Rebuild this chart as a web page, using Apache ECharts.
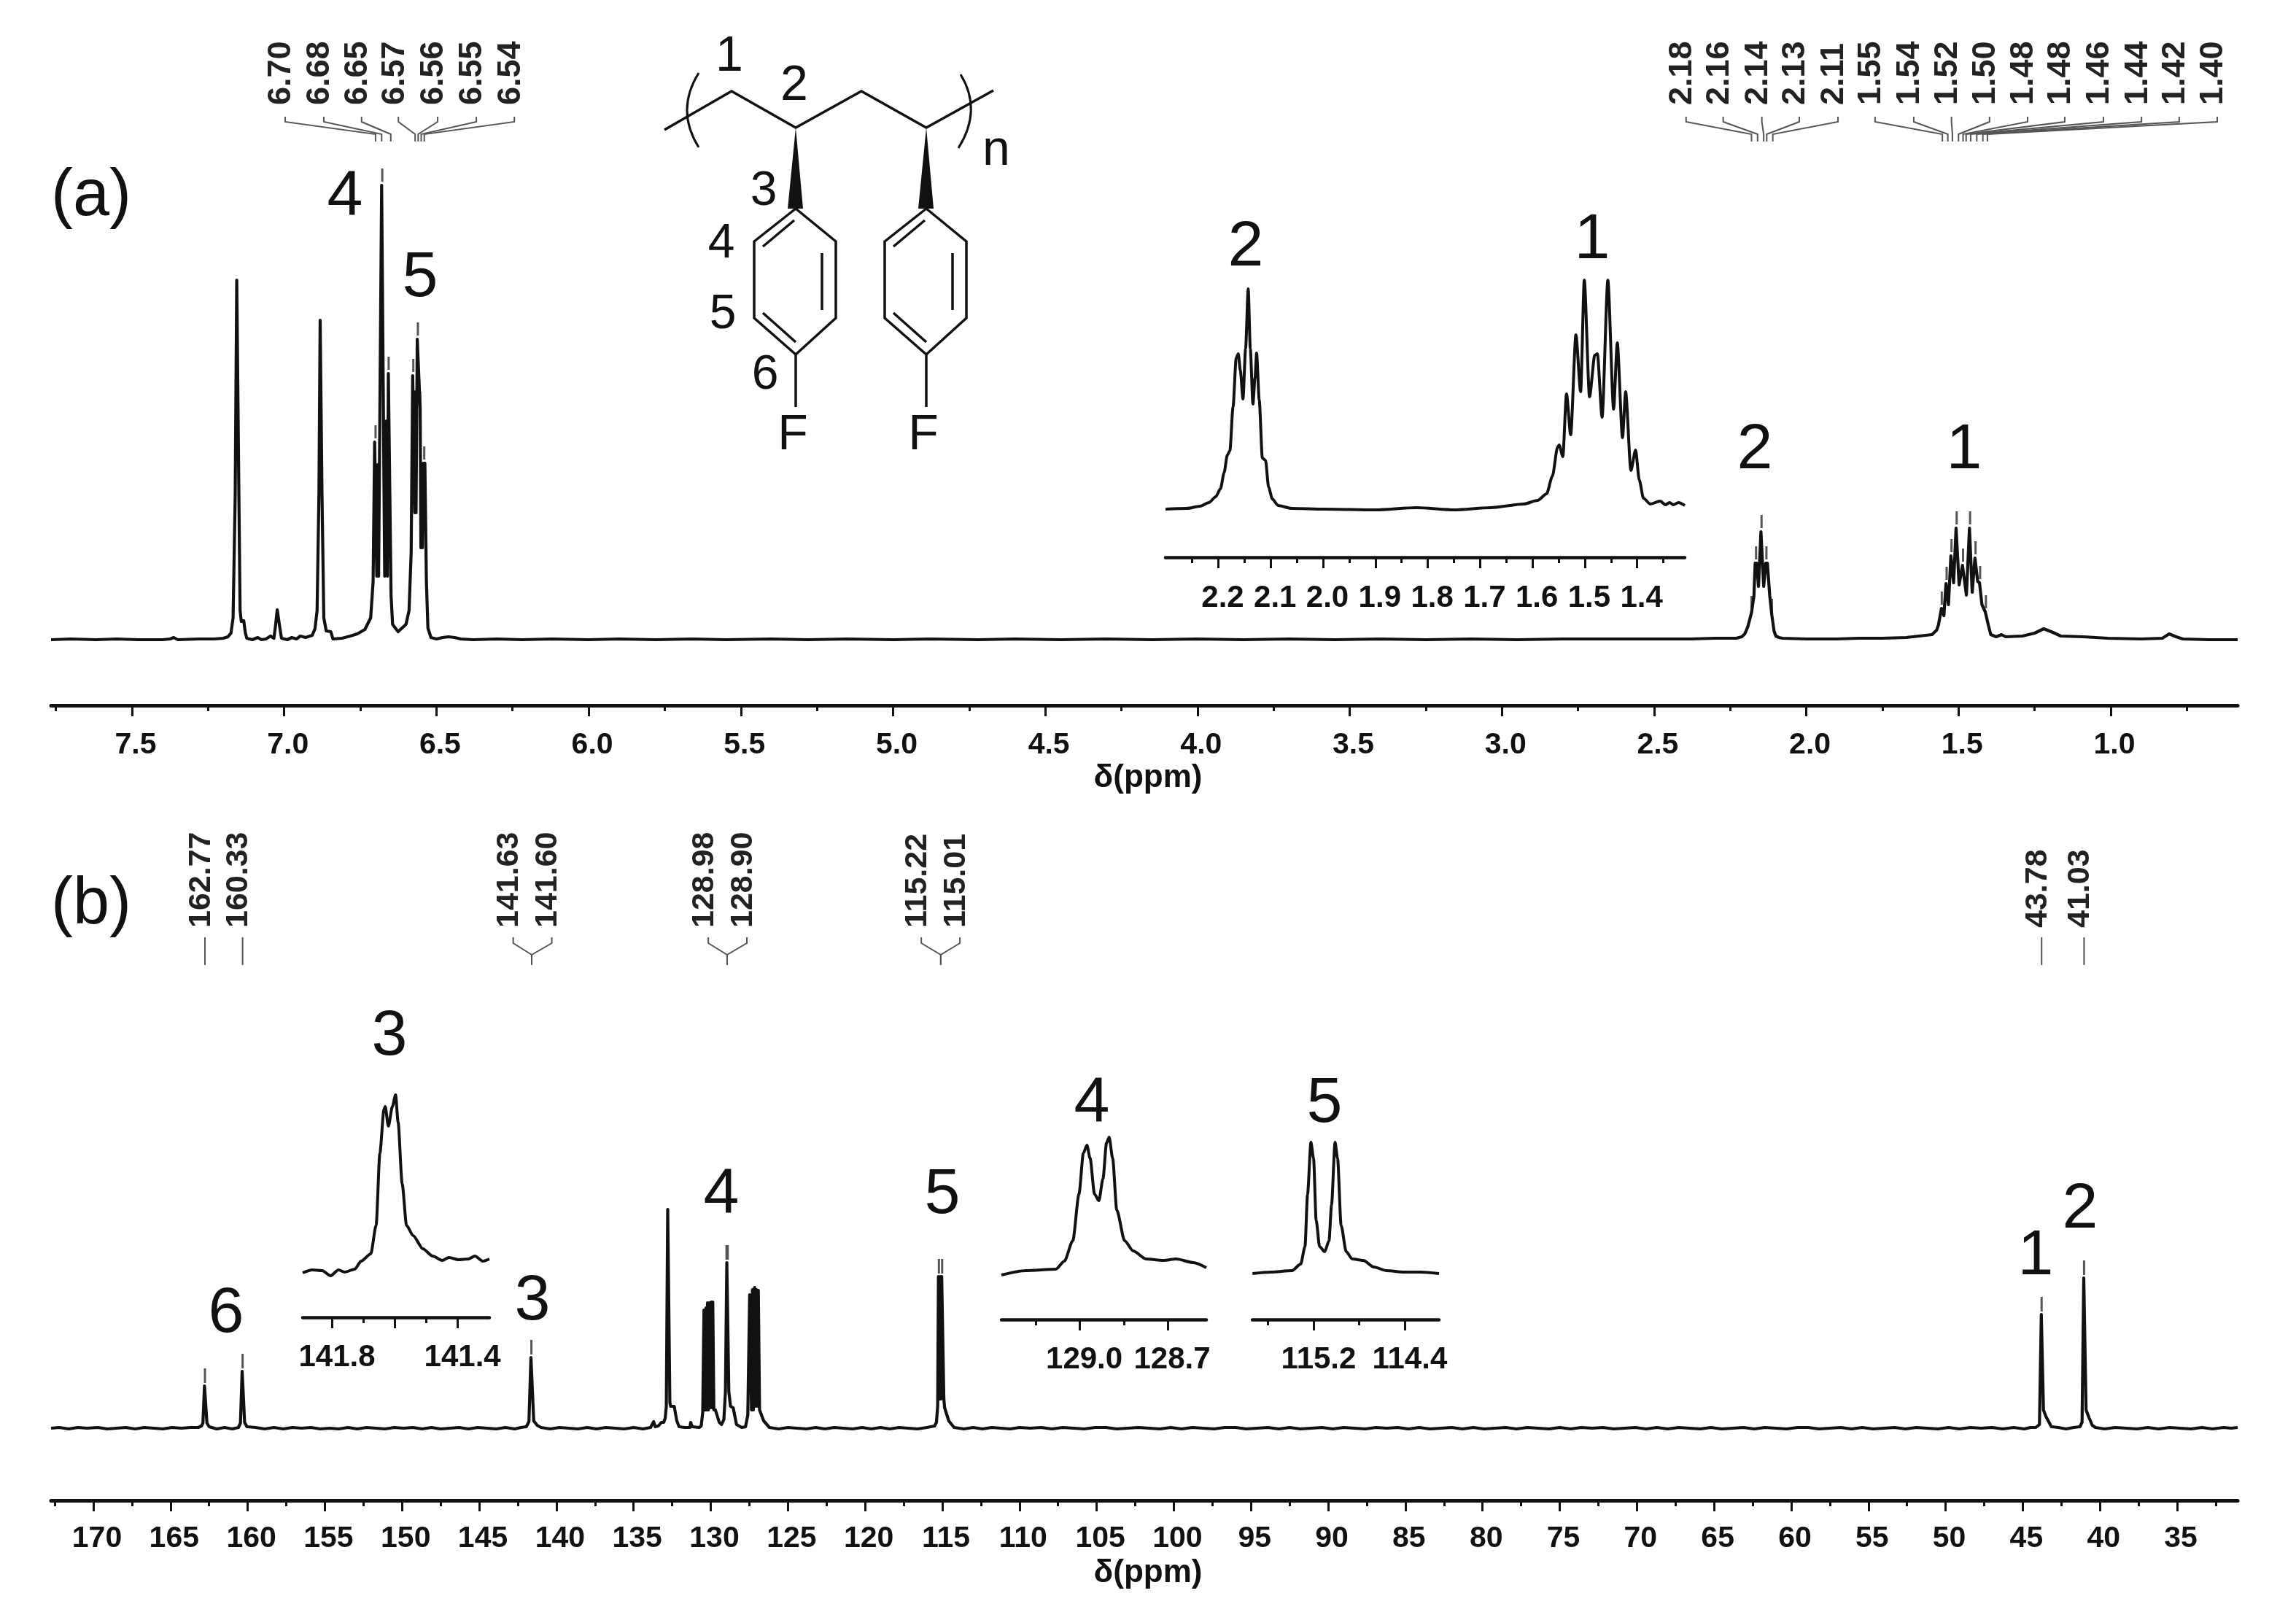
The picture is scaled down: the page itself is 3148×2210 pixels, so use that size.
<!DOCTYPE html>
<html><head><meta charset="utf-8">
<style>html,body{margin:0;padding:0;background:#fff}#c{width:3148px;height:2210px}</style>
<script src="https://cdn.jsdelivr.net/npm/echarts@6/dist/echarts.min.js"></script>
</head><body><div id="c"></div>
<script>
// ---------- values: [ppm, intensity] ----------
const protonTrace=[[7.766,0],[7.70,1],[7.62,0],[7.55,1],[7.48,0],[7.40,0],[7.375,1],[7.363,3],[7.35,0],[7.28,1],[7.23,1],[7.20,2],[7.185,4],[7.175,9],[7.168,30],[7.161,200],[7.156,493],[7.154,493],[7.149,200],[7.145,40],[7.141,25],[7.133,26],[7.128,10],[7.123,2],[7.105,0],[7.087,3],[7.075,0],[7.060,1],[7.045,5],[7.034,2],[7.029,18],[7.023,41],[7.019,41],[7.015,18],[7.009,2],[6.99,0],[6.975,3],[6.960,1],[6.947,5],[6.93,3],[6.908,6],[6.899,15],[6.892,40],[6.886,200],[6.882,438],[6.880,438],[6.876,200],[6.870,30],[6.862,12],[6.847,11],[6.840,1],[6.81,2],[6.783,5],[6.76,8],[6.735,14],[6.716,30],[6.708,80],[6.703,271],[6.699,271],[6.696,87],[6.693,240],[6.690,87],[6.687,87],[6.680,623],[6.677,623],[6.670,87],[6.667,87],[6.664,300],[6.661,87],[6.658,365],[6.654,365],[6.649,60],[6.644,21],[6.626,11],[6.60,21],[6.590,40],[6.583,120],[6.578,362],[6.574,362],[6.571,174],[6.569,340],[6.567,174],[6.563,412],[6.559,412],[6.5535,317],[6.551,126],[6.548,240],[6.546,126],[6.543,242],[6.538,242],[6.533,80],[6.528,16],[6.518,3],[6.50,1],[6.48,3],[6.46,4],[6.44,3],[6.42,1],[6.38,0],[6.30,1],[6.22,0],[6.12,1],[6.0,0],[5.9,1],[5.78,0],[5.66,1],[5.55,0],[5.4,1],[5.28,0],[5.15,1],[5.0,0],[4.88,1],[4.72,0],[4.6,1],[4.45,0],[4.3,1],[4.15,0],[4.0,1],[3.85,0],[3.7,1],[3.55,0],[3.4,1],[3.25,0],[3.1,1],[2.95,0],[2.8,1],[2.65,1],[2.5,1],[2.38,1],[2.30,2],[2.23,2],[2.212,4],[2.202,8],[2.192,18],[2.18,37],[2.172,60],[2.168,105],[2.163,105],[2.157,73],[2.153,73],[2.149,148],[2.145,148],[2.140,73],[2.136,73],[2.133,105],[2.128,105],[2.12,60],[2.113,33],[2.106,12],[2.10,5],[2.09,3],[2.078,2],[2.0,1],[1.9,1],[1.827,2],[1.75,2],[1.672,3],[1.587,7],[1.572,13],[1.566,20],[1.559,36],[1.556,43],[1.552,43],[1.548,33],[1.541,77],[1.537,77],[1.533,48],[1.529,48],[1.525,115],[1.521,115],[1.516,78],[1.512,78],[1.508,153],[1.504,153],[1.498,75],[1.494,75],[1.487,102],[1.483,102],[1.474,61],[1.470,61],[1.464,153],[1.460,153],[1.455,65],[1.451,65],[1.446,112],[1.442,112],[1.437,80],[1.431,78],[1.427,78],[1.423,48],[1.412,38],[1.408,38],[1.402,20],[1.394,7],[1.376,4],[1.359,7],[1.345,4],[1.29,5],[1.25,9],[1.22,15],[1.19,10],[1.164,5],[1.09,4],[1.01,2],[0.90,1],[0.83,2],[0.808,8],[0.785,4],[0.763,1],[0.68,0],[0.583,0]];
const protonInsetTrace=[[2.301,0],[2.26,1],[2.235,4],[2.218,9],[2.205,17],[2.196,28],[2.189,50],[2.183,74],[2.178,80],[2.172,140],[2.166,207],[2.162,213],[2.158,190],[2.153,151],[2.148,220],[2.143,302],[2.139,220],[2.134,144],[2.130,180],[2.127,214],[2.122,150],[2.116,70],[2.110,67],[2.104,30],[2.097,14],[2.086,5],[2.06,1],[1.998,0],[1.90,-1],[1.822,2],[1.749,-1],[1.68,2],[1.617,7],[1.59,12],[1.573,21],[1.562,45],[1.552,85],[1.549,88],[1.542,72],[1.535,158],[1.527,102],[1.517,239],[1.508,161],[1.501,314],[1.491,154],[1.481,211],[1.476,213],[1.467,126],[1.456,314],[1.445,137],[1.438,228],[1.428,98],[1.422,161],[1.412,53],[1.403,81],[1.396,40],[1.388,15],[1.375,7],[1.356,11],[1.346,6],[1.338,9],[1.331,6],[1.321,9],[1.309,5]];
const carbonTrace=[[172.74,0],[172.2,1],[171.6,-1],[171.0,1],[170.4,0],[169.7,1],[169.1,-1],[168.5,0],[167.9,1],[167.3,-1],[166.7,1],[166.1,0],[165.5,-1],[164.9,1],[164.3,0],[163.7,1],[163.2,1],[163.0,3],[162.9,7],[162.8,58],[162.74,58],[162.64,7],[162.5,2],[162.0,-1],[161.5,1],[161.0,-1],[160.6,1],[160.47,7],[160.36,78],[160.31,78],[160.2,8],[160.05,2],[159.5,1],[158.9,-1],[158.3,1],[157.7,-1],[157.1,1],[156.5,0],[155.9,1],[155.3,-1],[154.7,0],[154.1,-1],[153.5,1],[152.9,-1],[152.3,1],[151.7,0],[151.1,-1],[150.5,1],[149.9,0],[149.3,1],[148.7,-1],[148.1,1],[147.5,-1],[146.9,0],[146.3,1],[145.7,-1],[145.1,1],[144.5,0],[143.9,-1],[143.3,1],[142.7,-1],[142.3,1],[141.95,2],[141.78,9],[141.65,97],[141.59,97],[141.47,10],[141.25,4],[141.0,1],[140.4,-1],[139.8,1],[139.2,0],[138.6,-1],[138.0,1],[137.4,-1],[136.8,1],[136.2,0],[135.6,-1],[135.0,1],[134.4,-1],[133.9,1],[133.7,9],[133.6,2],[133.4,3],[133.2,8],[133.05,8],[132.95,14],[132.88,30],[132.79,300],[132.74,300],[132.65,35],[132.6,30],[132.37,30],[132.2,10],[132.05,2],[131.7,1],[131.35,1],[131.3,8],[131.2,2],[130.75,1],[130.62,3],[130.52,22],[130.44,162],[130.36,25],[130.31,165],[130.26,25],[130.21,172],[130.15,25],[130.08,172],[130.03,28],[129.97,173],[129.92,28],[129.87,173],[129.8,25],[129.7,25],[129.45,8],[129.3,5],[129.15,12],[129.05,50],[128.96,227],[128.92,227],[128.83,50],[128.72,30],[128.55,28],[128.33,5],[128.0,1],[127.75,2],[127.6,18],[127.48,183],[127.42,183],[127.36,25],[127.3,190],[127.24,25],[127.16,193],[127.1,30],[127.04,190],[126.98,30],[126.92,189],[126.84,25],[126.57,10],[126.2,1],[125.6,-1],[125.0,1],[124.4,0],[123.8,-1],[123.2,1],[122.6,-1],[122.0,1],[121.4,0],[120.8,-1],[120.2,1],[119.6,-1],[119.0,1],[118.4,-1],[117.8,1],[117.2,0],[116.6,-1],[116.0,1],[115.5,3],[115.38,8],[115.3,30],[115.25,208],[115.2,208],[115.16,40],[115.12,208],[115.08,40],[115.04,208],[114.98,208],[114.9,40],[114.85,28],[114.58,10],[114.24,1],[113.6,-1],[113.0,1],[112.4,-1],[111.8,1],[111.2,0],[110.6,-1],[110.0,1],[109.3,0],[108.6,1],[107.9,-1],[107.2,1],[106.5,0],[105.8,-1],[105.1,1],[104.4,1],[103.7,-1],[103.0,0],[102.3,1],[101.6,0],[100.9,-1],[100.2,1],[99.5,-1],[98.8,1],[98.1,0],[97.4,-1],[96.7,1],[96.0,1],[95.3,-1],[94.6,0],[93.9,1],[93.2,-1],[92.5,1],[91.8,-1],[91.1,0],[90.4,1],[89.7,-1],[89.0,1],[88.3,0],[87.6,-1],[86.9,1],[86.2,0],[85.5,1],[84.8,-1],[84.1,1],[83.4,-1],[82.7,0],[82.0,1],[81.3,-1],[80.6,1],[79.9,-1],[79.2,0],[78.5,1],[77.8,-1],[77.1,1],[76.4,0],[75.7,-1],[75.0,1],[74.3,-1],[73.6,1],[72.9,0],[72.2,1],[71.5,-1],[70.8,0],[70.1,1],[69.4,-1],[68.7,1],[68.0,-1],[67.3,1],[66.6,0],[65.9,-1],[65.2,1],[64.5,-1],[63.8,0],[63.1,1],[62.4,-1],[61.7,1],[61.0,0],[60.3,-1],[59.6,1],[58.9,1],[58.2,-1],[57.5,0],[56.8,1],[56.1,-1],[55.4,1],[54.7,-1],[54.0,0],[53.3,1],[52.6,-1],[51.9,1],[51.2,0],[50.5,-1],[49.8,1],[49.1,-1],[48.4,1],[47.7,0],[47.0,1],[46.3,-1],[45.6,1],[44.9,-1],[44.5,1],[44.15,1],[43.92,5],[43.80,156],[43.76,156],[43.66,25],[43.5,16],[43.3,8],[43.15,2],[42.7,1],[42.2,-1],[41.7,1],[41.3,2],[41.16,8],[41.05,206],[41.01,206],[40.9,25],[40.7,14],[40.5,4],[40.3,1],[39.7,-1],[39.0,1],[38.3,0],[37.6,-1],[36.9,1],[36.2,-1],[35.5,1],[34.8,0],[34.1,-1],[33.4,1],[32.7,-1],[32.0,1],[31.5,0],[31.08,1]];
const c3InsetTrace=[[141.893,-5],[141.862,-1],[141.831,-2],[141.804,-9],[141.779,-1],[141.759,-4],[141.727,0],[141.707,11],[141.676,21],[141.659,60],[141.647,159],[141.634,219],[141.630,223],[141.620,196],[141.607,223],[141.597,239],[141.589,202],[141.576,117],[141.562,60],[141.541,46],[141.510,28],[141.479,18],[141.448,12],[141.427,16],[141.396,13],[141.365,14],[141.344,18],[141.319,11],[141.298,14]];
const c4InsetTrace=[[129.268,-1],[129.185,5],[129.082,7],[129.053,18],[129.024,46],[129.003,110],[128.988,166],[128.976,177],[128.965,159],[128.95,110],[128.935,101],[128.921,131],[128.909,180],[128.9,188],[128.888,159],[128.874,88],[128.847,46],[128.818,32],[128.774,21],[128.715,19],[128.671,21],[128.612,16],[128.568,9]];
const c5InsetTrace=[[115.736,0],[115.577,2],[115.389,4],[115.313,13],[115.275,37],[115.253,108],[115.223,180],[115.2,158],[115.177,73],[115.147,37],[115.102,30],[115.064,45],[115.042,94],[115.011,180],[114.989,158],[114.958,66],[114.913,30],[114.86,20],[114.762,18],[114.672,9],[114.558,4],[114.408,2],[114.257,2],[114.098,0]];

// picked peaks: label text, peak position, where the label sits (all on the ppm scale)
const protonPickLabels=['6.70','6.68','6.65','6.57','6.56','6.55','6.54','2.18','2.16','2.14','2.13','2.11','1.55','1.54','1.52','1.50','1.48','1.48','1.46','1.44','1.42','1.40'];
const protonPickPpm=[6.70,6.68,6.65,6.57,6.56,6.55,6.54,2.18,2.16,2.14,2.13,2.11,1.553,1.535,1.52,1.50,1.485,1.475,1.46,1.44,1.42,1.405];
const protonPickLabelPpm=[6.997,6.870,6.746,6.625,6.496,6.369,6.244,2.395,2.273,2.146,2.023,1.896,1.774,1.647,1.523,1.398,1.273,1.151,1.024,0.899,0.775,0.650];
const carbonPickLabels=['162.77','160.33','141.63','141.60','128.98','128.90','115.22','115.01','43.78','41.03'];
const carbonPickPpm=[162.77,160.33,141.6,141.6,128.94,128.94,115.1,115.1,43.78,41.03];
const carbonPickLabelPpm=[162.77,160.33,142.8,140.3,130.16,127.66,116.36,113.86,43.78,41.03];
// small marks drawn over the picked peaks: [ppm, peak top]
const protonPeakMarks=[[6.70,271],[6.678,623],[6.657,365],[6.576,362],[6.561,412],[6.5535,317],[6.54,242],[2.18,37],[2.165,105],[2.147,148],[2.131,105],[2.113,33],[1.555,43],[1.539,77],[1.523,115],[1.506,153],[1.485,102],[1.462,153],[1.444,112],[1.429,78],[1.41,38]];
const carbonPeakMarks=[[162.77,58],[160.33,78],[141.62,97],[128.98,227],[128.9,227],[115.22,208],[115.01,208],[43.78,156],[41.03,206]];

const protonMajor=[7.5,7,6.5,6,5.5,5,4.5,4,3.5,3,2.5,2,1.5,1];
const protonMinor=[7.75,7.25,6.75,6.25,5.75,5.25,4.75,4.25,3.75,3.25,2.75,2.25,1.75,1.25,0.75];
const carbonMajor=[170,165,160,155,150,145,140,135,130,125,120,115,110,105,100,95,90,85,80,75,70,65,60,55,50,45,40,35];
const carbonMinor=[172.5,167.5,162.5,157.5,152.5,147.5,142.5,137.5,132.5,127.5,122.5,117.5,112.5,107.5,102.5,97.5,92.5,87.5,82.5,77.5,72.5,67.5,62.5,57.5,52.5,47.5,42.5,37.5,32.5];
const insetAMajor=[2.2,2.1,2.0,1.9,1.8,1.7,1.6,1.5,1.4];
const insetAMinor=[2.25,2.15,2.05,1.95,1.85,1.75,1.65,1.55,1.45,1.35];
const insetC3Major=[141.8,141.6,141.4], insetC3Minor=[141.7,141.5], insetC3Labels=[141.8,141.4];
const insetC4Major=[129.0,128.7], insetC4Minor=[129.15,128.85];
const insetC5Major=[115.2,114.4], insetC5Minor=[115.6,114.8];

// ---------- layout ----------
const font='"Liberation Sans", Arial, sans-serif', ink='#111';
const panels=[
 {left:70,right:3068,top:0,bottom:967,yMin:-90,yMax:877,xMax:7.766,xMin:0.583,major:protonMajor,minor:protonMinor,dec:1,margin:34,trace:protonTrace,name:true,pad:10,fs:41,lw:4.2},
 {left:70,right:3068,top:1100,bottom:2057,yMin:-99,yMax:858,xMax:172.74,xMin:31.08,major:carbonMajor,minor:carbonMinor,dec:0,margin:32,trace:carbonTrace,name:true,pad:10,fs:41,lw:4.2},
 {left:1598,right:2310,top:300,bottom:764,yMin:-66,yMax:398,xMax:2.301,xMin:1.309,major:insetAMajor,minor:insetAMinor,dec:1,margin:35,trace:protonInsetTrace,pad:12,fs:42,lw:4,smooth:0.25},
 {left:415,right:671,top:1400,bottom:1806,yMin:-66,yMax:340,xMax:141.893,xMin:141.298,major:insetC3Major,minor:insetC3Minor,labels:insetC3Labels,dec:1,margin:34,trace:c3InsetTrace,pad:14,fs:42,lw:4,smooth:0.25},
 {left:1373,right:1654,top:1500,bottom:1809,yMin:-62,yMax:247,xMax:129.268,xMin:128.568,major:insetC4Major,minor:insetC4Minor,dec:1,margin:34,trace:c4InsetTrace,pad:12,fs:42,lw:4,smooth:0.25},
 {left:1717,right:1973,top:1500,bottom:1809,yMin:-63,yMax:246,xMax:115.738,xMin:114.098,major:insetC5Major,minor:insetC5Minor,dec:1,margin:34,trace:c5InsetTrace,pad:14,fs:42,lw:4,smooth:0.25}
];
const grid=[],xAxis=[],yAxis=[],series=[];
panels.forEach((p,i)=>{
  grid.push({left:p.left,top:p.top,width:p.right-p.left,height:p.bottom-p.top,containLabel:false,z:2});
  const line={show:true,lineStyle:{color:ink,width:i<2?5:4.5},onZero:false};
  xAxis.push({gridIndex:i,type:'value',inverse:true,min:p.xMin,max:p.xMax,position:'bottom',axisLine:line,splitLine:{show:false},
    axisTick:{show:true,inside:false,length:15,lineStyle:{color:ink,width:3},customValues:p.major},
    axisLabel:{show:true,margin:p.margin,color:ink,fontFamily:font,fontWeight:'bold',fontSize:p.fs,customValues:p.labels||p.major,hideOverlap:false,padding:[0,0,0,p.pad],formatter:v=>Number(v).toFixed(p.dec)},
    name:p.name?'δ(ppm)':'',nameLocation:'middle',nameGap:78,nameTextStyle:{fontFamily:font,fontWeight:'bold',fontSize:44,color:ink,padding:[0,0,0,10]}});
  xAxis.push({gridIndex:i,type:'value',inverse:true,min:p.xMin,max:p.xMax,position:'bottom',axisLine:{show:false,onZero:false},splitLine:{show:false},
    axisTick:{show:true,inside:false,length:8,lineStyle:{color:ink,width:3},customValues:p.minor},axisLabel:{show:false}});
  yAxis.push({gridIndex:i,type:'value',min:p.yMin,max:p.yMax,show:false});
  series.push({type:'line',xAxisIndex:i*2,yAxisIndex:i,data:p.trace,showSymbol:false,smooth:p.smooth||false,smoothMonotone:'x',animation:false,silent:true,clip:true,z:5,
    lineStyle:{color:ink,width:p.lw,join:'round'}});
});

function marks(data,axis,gap,len){
  return {type:'custom',xAxisIndex:axis*2,yAxisIndex:axis,data:data,encode:{x:0,y:1},animation:false,silent:true,clip:false,z:4,
    renderItem:(params,api)=>{
      const x=api.value(0),h=api.value(1);
      const a=api.coord([x,h+gap]),b=api.coord([x,h+gap+len]);
      return {type:'line',shape:{x1:a[0],y1:a[1],x2:b[0],y2:b[1]},style:{stroke:'#555',lineWidth:3}};
    }};
}
function picks(labels,ppm,labelPpm,axis,levels,textH,fontSize){
  const rows=labels.map((l,i)=>[labelPpm[i],ppm[i]]);
  return {type:'custom',xAxisIndex:axis*2,yAxisIndex:axis,data:rows,encode:{x:0},animation:false,silent:true,clip:false,z:4,
    renderItem:(params,api)=>{
      const lp=api.value(0),pp=api.value(1);
      const pts=[api.coord([lp,levels[0]]),api.coord([lp,levels[1]]),api.coord([pp,levels[2]]),api.coord([pp,levels[3]])];
      const t=api.coord([lp,textH]);
      return {type:'group',children:[
        {type:'polyline',shape:{points:pts},style:{stroke:'#555',lineWidth:2,fill:null}},
        {type:'text',x:t[0]-5,y:t[1],rotation:Math.PI/2,style:{text:labels[params.dataIndex],fill:'#222',font:'bold '+fontSize+'px '+font,textAlign:'left',textVerticalAlign:'middle'}}
      ]};
    }};
}
series.push(marks(protonPeakMarks,0,5,18));
series.push(marks(carbonPeakMarks,1,4,20));
series.push(picks(protonPickLabels,protonPickPpm,protonPickLabelPpm,0,[717,710,693,683],733,45));
series.push(picks(carbonPickLabels,carbonPickPpm,carbonPickLabelPpm,1,[673,665,649,635],686,43));

// ---------- annotation text ----------
const tx=(s,x,y,size)=>({type:'text',x:x,y:y,z:20,style:{text:s,fill:ink,font:size+'px '+font,textAlign:'center',textVerticalAlign:'middle'}});
const texts=[['(a)',125,270,90],['(b)',125,1241,90],['4',473,271,88],['5',576,382,88],
 ['1',1000,78,68],['2',1089,118,68],['3',1047,263,66],['4',989,335,66],['5',991,432,66],['6',1049,515,66],['F',1087,597,68],['F',1266,597,68],['n',1366,207,68],
 ['2',1708,340,88],['1',2183,330,88],['2',2406,618,88],['1',2693,618,88],
 ['6',310,1802,88],['3',534,1422,88],['3',730,1785,88],['4',989,1639,88],['5',1292,1639,88],['4',1497,1514,88],['5',1816,1514,88],['1',2791,1723,88],['2',2852,1659,88]];
const ln=(pts)=>({type:'polyline',z:20,shape:{points:pts},style:{stroke:ink,lineWidth:3.5,fill:null,lineJoin:'miter'}});
const ringShift=[0,179];
const mol=[ln([[911,178],[1003,125],[1091,175],[1181,125],[1270,175],[1362,124]]),
 {type:'bezierCurve',z:20,shape:{x1:958,y1:100,x2:958,y2:202,cpx1:926,cpy1:151},style:{stroke:ink,lineWidth:3,fill:null}},
 {type:'bezierCurve',z:20,shape:{x1:1317,y1:102,x2:1314,y2:203,cpx1:1347,cpy1:151},style:{stroke:ink,lineWidth:3,fill:null}}];
ringShift.forEach(d=>{
  mol.push({type:'polygon',z:20,shape:{points:[[1091+d,175],[1080+d,286],[1101+d,286]]},style:{fill:ink}});
  mol.push(ln([[1091+d,286],[1146+d,331],[1146+d,436],[1091+d,486],[1034+d,436],[1034+d,331],[1091+d,286]]));
  mol.push(ln([[1046+d,338],[1089+d,302]]));
  mol.push(ln([[1127+d,347],[1127+d,425]]));
  mol.push(ln([[1046+d,429],[1091+d,469]]));
  mol.push(ln([[1091+d,486],[1091+d,558]]));
});

const chart=echarts.init(document.getElementById('c'),null,{renderer:'canvas',width:3148,height:2210});
chart.setOption({animation:false,backgroundColor:'#fff',tooltip:{show:false},legend:{show:false},
  grid,xAxis,yAxis,series,
  graphic:{elements:texts.map(t=>tx(t[0],t[1],t[2],t[3])).concat(mol)}});
</script></body></html>
